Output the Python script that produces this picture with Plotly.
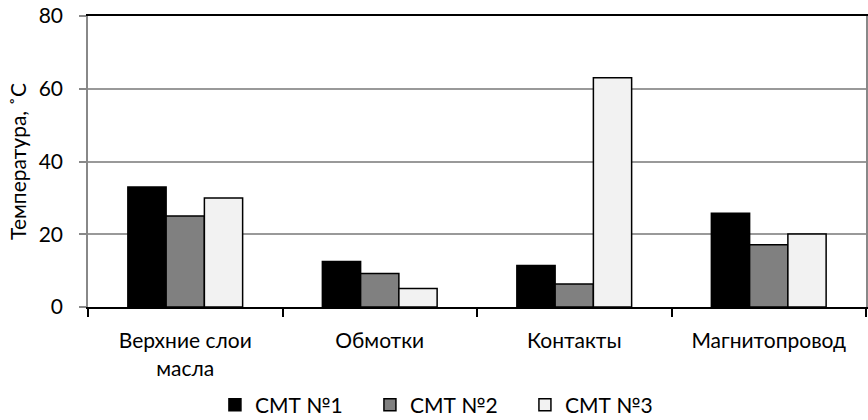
import plotly.graph_objects as go

categories = ["Верхние слои<br>масла", "Обмотки", "Контакты", "Магнитопровод"]
series_names = ["СМТ №1", "СМТ №2", "СМТ №3"]
smt1 = [33.0, 12.5, 11.4, 25.8]
smt2 = [25.0, 9.2, 6.3, 17.1]
smt3 = [30.0, 5.1, 63.0, 20.1]
fills = ["#000000", "#808080", "#f2f2f2"]

font_family = "Lato, 'Open Sans', sans-serif"

fig = go.Figure()
for name, vals, col in zip(series_names, [smt1, smt2, smt3], fills):
    fig.add_trace(go.Bar(
        x=categories, y=vals, name=name,
        marker=dict(color=col, line=dict(color="#000000", width=1.5)),
    ))

fig.update_layout(
    width=868, height=420,
    margin=dict(l=88, r=2, t=16, b=113, autoexpand=False),
    paper_bgcolor="white", plot_bgcolor="white",
    barmode="group", bargap=0.41, bargroupgap=0,
    font=dict(family=font_family, size=21, color="#000000"),
    legend=dict(orientation="h", x=0.462, xanchor="center", y=-0.337, yanchor="middle",
                font=dict(size=21), itemwidth=30, tracegroupgap=0,
                entrywidth=110, entrywidthmode="pixels"),
    showlegend=True,
)
fig.update_xaxes(
    showline=True, linecolor="#000000", linewidth=2, mirror=True,
    ticks="outside", tickson="boundaries", ticklen=8, tickcolor="#000000", tickwidth=1.5,
    showgrid=False, tickfont=dict(size=21), automargin=False,
    ticklabelstandoff=14,
)
fig.update_yaxes(
    range=[0, 80], dtick=20,
    showline=True, linecolor="#888888", linewidth=1.5, mirror=True,
    ticks="outside", ticklen=7, tickcolor="#888888", tickwidth=1.5,
    showgrid=True, gridcolor="#999999", gridwidth=1.5,
    zeroline=False, automargin=False,
    ticklabelstandoff=12,
    title=dict(text="Температура, ˚С", font=dict(size=21), standoff=6),
    tickfont=dict(size=21),
)

fig.write_html("out.html")
